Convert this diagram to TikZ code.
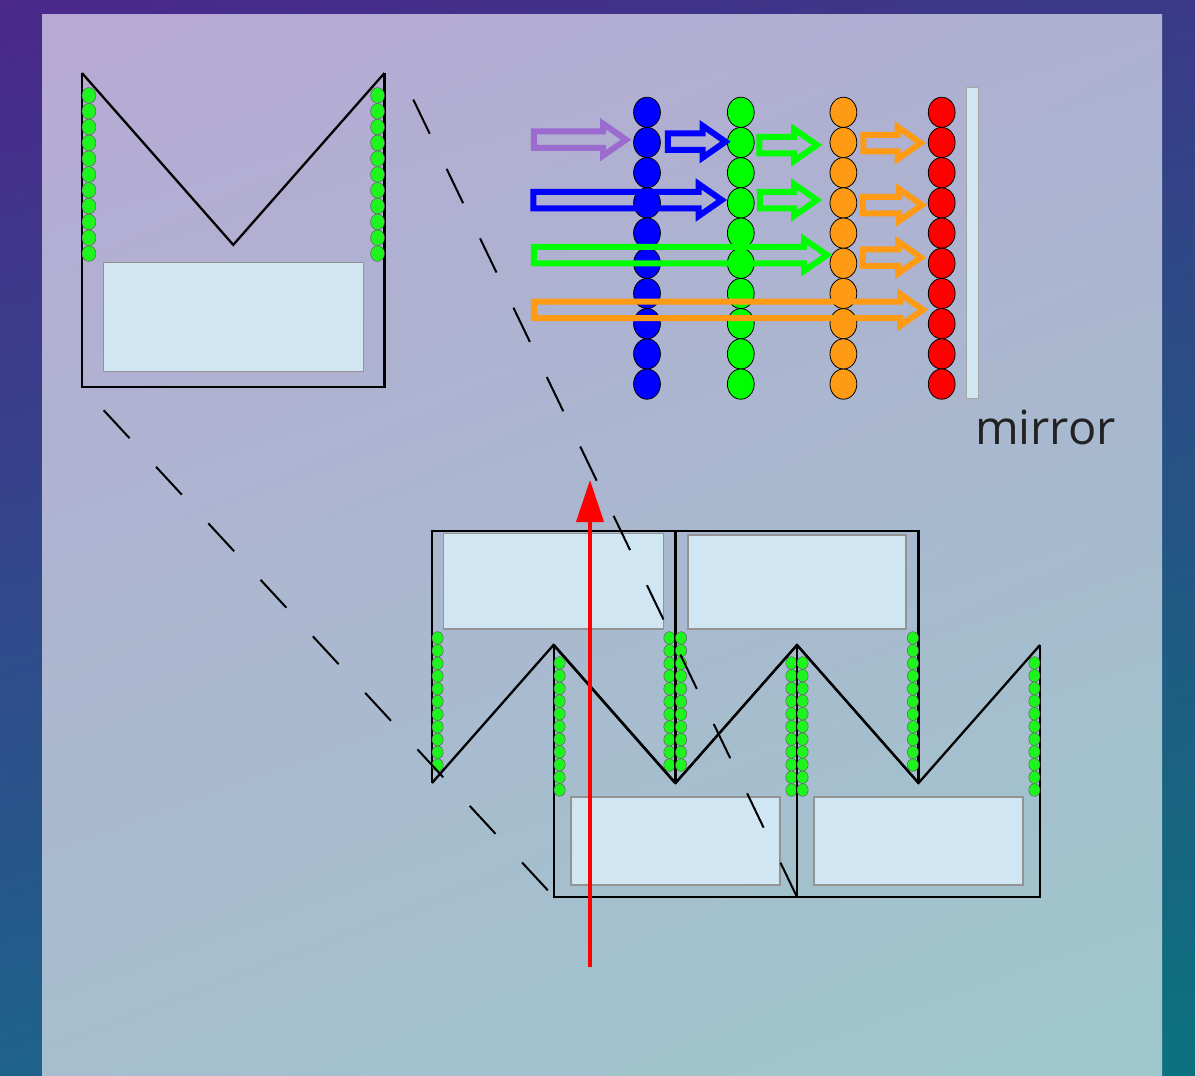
\documentclass[tikz,border=0pt]{standalone}
\usepackage{fontspec}
\setsansfont{Open Sans}
\usepackage{xcolor}
\usepackage{tikz}
\usetikzlibrary{arrows.meta, calc, shapes.geometric, shadings}
\definecolor{frameTL}{HTML}{4A288C}
\definecolor{frameTR}{HTML}{3A3A88}
\definecolor{frameBL}{HTML}{1E628A}
\definecolor{frameBR}{HTML}{0C727F}
\definecolor{panelTL}{HTML}{B7A9D4}
\definecolor{panelTR}{HTML}{AEB0D1}
\definecolor{panelBL}{HTML}{A5BFCE}
\definecolor{panelBR}{HTML}{9EC8CB}
\definecolor{glass}{HTML}{D0E6F3}
\definecolor{dotGreen}{HTML}{1EF51E}
\definecolor{beamPurple}{HTML}{9B6BCF}
\definecolor{beamOrange}{HTML}{FF9A14}
\definecolor{textDark}{HTML}{222222}
\tikzset{
  pane w/.initial=104.5,
  pane top/.initial=26,
  pane bottom/.initial=114,
  wall/.style={draw=black, line width=2.3pt, line join=miter},
  pane/.style={draw=gray!85, line width=1.2pt, fill=glass},
  dot/.style={draw=gray!75!black, line width=0.5pt, fill=dotGreen},
  bead/.style={
    ellipse, draw=black, line width=0.8pt,
    fill=#1, inner sep=0pt,
    minimum width=26.8pt, minimum height=30.2pt
  },
  beam/.style={draw=#1, line width=6pt, line join=miter},
  zoomline/.style={black, line width=2pt, dash pattern=on 38pt off 39pt},
  % one cell: U-shaped walls, V-shaped top, glass pane and two rows of dots
  pics/cell/.style={code={
    \draw[wall] (-121.5,-126) -- (-121.5,126) -- (121.5,126) -- (121.5,-126);
    \draw[wall] (-121.5,-126) -- (0,12) -- (121.5,-126);
    \draw[pane] (-\pgfkeysvalueof{/tikz/pane w},\pgfkeysvalueof{/tikz/pane top})
      rectangle (\pgfkeysvalueof{/tikz/pane w},\pgfkeysvalueof{/tikz/pane bottom});
    \foreach \k in {0,...,10} {
      \draw[dot] (-115.9,-108+12.7*\k) ellipse (5.6 and 6.3);
      \draw[dot] (115.9,-108+12.7*\k) ellipse (5.6 and 6.3);
    }
    \coordinate (-sw) at (-121.5,126);
    \coordinate (-se) at (121.5,126);
    \coordinate (-ne) at (121.5,-126);
  }},
  % hollow block arrow, tail at the origin
  pics/beamarrow/.style n args={2}{code={
    \draw[beam=#2] (0,-8.25) -- (#1-23,-8.25) -- (#1-23,-16) -- (#1,0)
      -- (#1-23,16) -- (#1-23,8.25) -- (0,8.25) -- cycle;
  }}
}

\begin{document}
\begin{tikzpicture}[x=1pt, y=-1pt]
  \useasboundingbox (0,0) rectangle (1195,1076);
  \shade[upper left=frameTL, upper right=frameTR, lower left=frameBL, lower right=frameBR]
    (0,0) rectangle (1195,1076);
  \shade[upper left=panelTL, upper right=panelTR, lower left=panelBL, lower right=panelBR]
    (42,14) rectangle (1162,1076);

  % magnified cell
  \pic[scale=1.245] (lens) at (233.25,229.9) {cell};

  % row of cells
  \pic[rotate=180, pane w=110, pane top=28, pane bottom=123.5] (ua) at (553.5,657) {cell};
  \pic[rotate=180, pane w=109, pane top=28, pane bottom=122] (ub) at (797,657) {cell};
  \pic (la) at (675.5,771) {cell};
  \pic (lb) at (918.5,771) {cell};

  \draw[zoomline, dash phase=45pt] (lens-sw) -- (la-sw);
  \draw[zoomline] (la-se) -- ($(lens-ne)+(16,0)$);

  \coordinate (ray-src) at (590,967);
  \coordinate (ray-dst) at (590,480);
  \draw[-{Triangle[length=42pt, width=27pt]}, red, line width=4pt] (ray-src) -- (ray-dst);

  % layers in front of the mirror
  \foreach \col/\x/\c in {b/647/blue, g/740.8/green, o/843.4/beamOrange, r/941.7/red}
    \foreach \k in {0,...,9}
      \node[bead=\c] (\col\k) at (\x,112.3+30.2*\k) {};

  \node[draw=gray!70, fill=glass, line width=1pt, inner sep=0pt,
    minimum width=12pt, minimum height=311pt] (mirror) at (972,242.5) {};
  \node[anchor=base west, inner sep=0pt, text=textDark,
    font=\sffamily\fontsize{47}{50}\selectfont] (mirrorlabel) at (975,444) {mirror};

  \pic at (533.75,139.7) {beamarrow={92.25}{beamPurple}};
  \pic at (667.75,141.7) {beamarrow={57.75}{blue}};
  \pic at (759.25,145) {beamarrow={57.75}{green}};
  \pic at (863.35,143) {beamarrow={57.35}{beamOrange}};
  \pic at (533.45,200) {beamarrow={188.25}{blue}};
  \pic at (759.75,200) {beamarrow={57.25}{green}};
  \pic at (862.75,205) {beamarrow={59.25}{beamOrange}};
  \pic at (533.75,255) {beamarrow={293.25}{green}};
  \pic at (862.75,257.5) {beamarrow={58.25}{beamOrange}};
  \pic at (533.75,309.8) {beamarrow={389.25}{beamOrange}};
\end{tikzpicture}
\end{document}
